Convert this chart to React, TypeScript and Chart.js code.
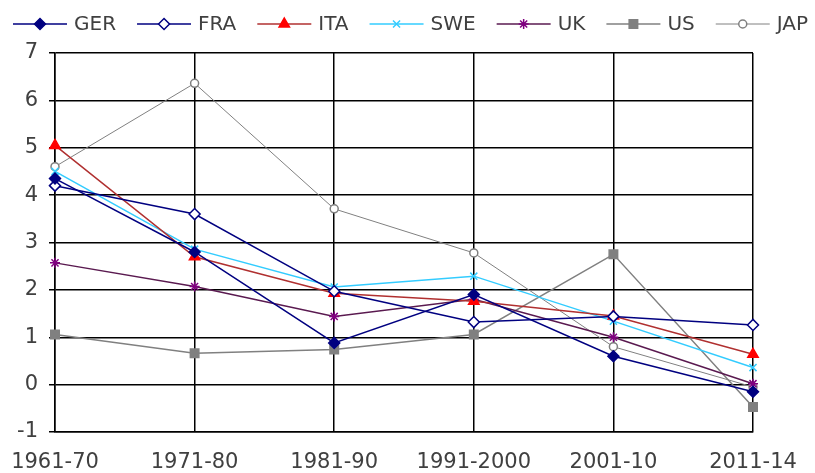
import React, { useEffect, useRef } from 'react';
import { Chart, registerables } from 'chart.js';
import { drawPoint } from 'chart.js/helpers';

Chart.register(...registerables);

const categories = ['1961-70', '1971-80', '1981-90', '1991-2000', '2001-10', '2011-14'];
const GER = [4.35, 2.8, 0.88, 1.9, 0.6, -0.15];
const FRA = [4.2, 3.6, 1.97, 1.32, 1.44, 1.26];
const ITA = [5.05, 2.7, 1.93, 1.76, 1.45, 0.64];
const SWE = [4.5, 2.86, 2.06, 2.29, 1.34, 0.36];
const UK = [2.57, 2.07, 1.44, 1.8, 1.0, 0.02];
const US = [1.06, 0.66, 0.74, 1.06, 2.75, -0.47];
const JAP = [4.6, 6.36, 3.71, 2.78, 0.8, -0.05];
const yMin = -1;
const yMax = 7;

const FONT = '"DejaVu Sans", Verdana, sans-serif';

const legendPlugin = {
  id: 'lineLegend',
  afterDraw(chart: any) {
    const ctx = chart.ctx;
    ctx.save();
    ctx.font = `20px ${FONT}`;
    ctx.textBaseline = 'middle';
    let x = 13;
    const y = 24;
    chart.data.datasets.forEach((ds: any) => {
      ctx.strokeStyle = ds.borderColor;
      ctx.lineWidth = ds.borderWidth;
      ctx.beginPath();
      ctx.moveTo(x, y);
      ctx.lineTo(x + 54, y);
      ctx.stroke();
      ctx.fillStyle = ds.pointBackgroundColor;
      ctx.strokeStyle = ds.pointBorderColor;
      ctx.lineWidth = ds.pointBorderWidth;
      drawPoint(ctx, { pointStyle: ds.pointStyle, radius: ds.pointRadius, rotation: 0, borderWidth: ds.pointBorderWidth } as any, x + 27, y);
      ctx.fillStyle = '#404040';
      ctx.fillText(ds.label, x + 61, y + 1);
      x += 61 + ctx.measureText(ds.label).width + 21;
    });
    ctx.restore();
  },
};

function series(label: string, data: number[], line: string, fill: string, border: string, style: string, radius: number, width = 1.5) {
  return {
    label,
    data,
    borderColor: line,
    borderWidth: width,
    pointStyle: style,
    pointRadius: radius,
    pointBackgroundColor: fill,
    pointBorderColor: border,
    pointBorderWidth: 1.5,
    tension: 0,
    fill: false,
  };
}

export default function App() {
  const ref = useRef<HTMLCanvasElement>(null);
  useEffect(() => {
    document.body.style.margin = '0';
    const chart = new Chart(ref.current as HTMLCanvasElement, {
      type: 'line',
      data: {
        labels: categories,
        datasets: [
          series('GER', GER, '#000080', '#000080', '#000080', 'rectRot', 5.5),
          series('FRA', FRA, '#000080', '#ffffff', '#000080', 'rectRot', 5.5),
          series('ITA', ITA, '#B03030', '#FF0000', '#FF0000', 'triangle', 6),
          series('SWE', SWE, '#33CCFF', '#33CCFF', '#33CCFF', 'crossRot', 5),
          series('UK', UK, '#5A1A50', '#800080', '#800080', 'star', 5),
          series('US', US, '#808080', '#808080', '#808080', 'rect', 6),
          series('JAP', JAP, '#808080', '#ffffff', '#808080', 'circle', 4, 1),
        ] as any,
      },
      options: {
        animation: false,
        responsive: false,
        layout: { padding: { top: 53, right: 62, left: 0, bottom: 0 } },
        plugins: { legend: { display: false }, tooltip: { enabled: false } },
        scales: {
          x: {
            type: 'category',
            offset: false,
            grid: { color: '#000', lineWidth: 1.5, drawTicks: true, tickLength: 18, tickColor: 'rgba(0,0,0,0)' },
            border: { color: '#000', width: 1.5 },
            ticks: { font: { family: FONT, size: 21 }, color: '#404040', padding: 0, maxRotation: 0, autoSkip: false },
            afterFit: (s: any) => { s.height = 41; },
          },
          y: {
            min: yMin,
            max: yMax,
            grid: { color: '#000', lineWidth: 1.5, tickLength: 6 },
            border: { color: '#000', width: 1.5 },
            ticks: { stepSize: 1, font: { family: FONT, size: 21 }, color: '#404040', padding: 11 },
            afterFit: (s: any) => { s.width = 55; },
          },
        },
      } as any,
      plugins: [legendPlugin],
    });
    return () => chart.destroy();
  }, []);
  return (
    <div style={{ width: 815, height: 473 }}>
      <canvas ref={ref} width={815} height={473} />
    </div>
  );
}
